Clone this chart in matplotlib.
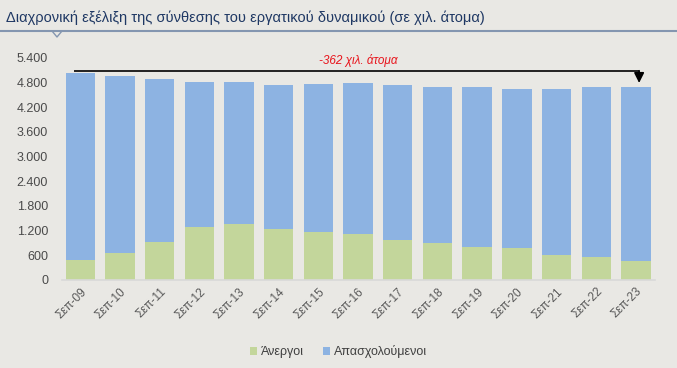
import matplotlib
matplotlib.use("Agg")
import matplotlib.pyplot as plt
import numpy as np

plt.rcParams['font.family'] = ['Liberation Sans', 'DejaVu Sans']

categories = ["Σεπ-09", "Σεπ-10", "Σεπ-11", "Σεπ-12", "Σεπ-13", "Σεπ-14", "Σεπ-15",
              "Σεπ-16", "Σεπ-17", "Σεπ-18", "Σεπ-19", "Σεπ-20", "Σεπ-21", "Σεπ-22", "Σεπ-23"]
unemployed = [496, 667, 928, 1278, 1351, 1229, 1173, 1107, 985, 894, 806, 772, 601, 552, 454]
total = [5045, 4974, 4893, 4828, 4813, 4747, 4771, 4803, 4740, 4705, 4705, 4642, 4657, 4705, 4683]
employed = [t - u for t, u in zip(total, unemployed)]
yticks = [0, 600, 1200, 1800, 2400, 3000, 3600, 4200, 4800, 5400]
ytick_labels = ["0", "600", "1.200", "1.800", "2.400", "3.000", "3.600", "4.200", "4.800", "5.400"]
title = "Διαχρονική εξέλιξη της σύνθεσης του εργατικού δυναμικού (σε χιλ. άτομα)"
annotation = "-362 χιλ. άτομα"

bg = "#e9e8e4"
green = "#c3d69b"
blue = "#8db3e2"

fig = plt.figure(figsize=(6.77, 3.68), dpi=100, facecolor=bg)
ax = fig.add_axes([62/677, 1 - 280/368, (655-62)/677, (280-58)/368])
ax.set_facecolor(bg)

x = np.arange(len(categories))
ax.bar(x, unemployed, width=0.74, color=green, label="Άνεργοι", zorder=2)
ax.bar(x, employed, width=0.74, bottom=unemployed, color=blue, label="Απασχολούμενοι", zorder=2)

ax.set_xlim(-0.46, len(categories) - 1 + 0.48)
ax.set_ylim(0, 5400)
ax.set_yticks(yticks)
ax.set_yticklabels(ytick_labels, fontsize=9, color="#4a4a4a")
ax.set_xticks(x)
ax.set_xticklabels(categories, rotation=45, ha="right", rotation_mode="anchor",
                   fontsize=8.5, color="#595959")
ax.tick_params(axis="y", length=0, pad=10)
ax.tick_params(axis="x", length=0, pad=4)
for s in ["top", "right", "left"]:
    ax.spines[s].set_visible(False)
ax.spines["bottom"].set_color("#d9d9d9")
ax.spines["bottom"].set_linewidth(1.2)

# annotation arrow line
y_line = total[0] + 30
ax.plot([x[0] - 0.15, x[-1] + 0.08], [y_line, y_line], color="black", lw=1.2, zorder=3,
        solid_capstyle="butt")
ax.annotate("", xy=(x[-1] + 0.08, total[-1] + 110), xytext=(x[-1] + 0.08, y_line + 15),
            arrowprops=dict(arrowstyle="-|>", color="black", lw=1.2, mutation_scale=15,
                            shrinkA=0, shrinkB=0), zorder=3)
ax.text(7.0, y_line + 110, annotation, color="#e8141c", fontsize=8.5, style="italic",
        ha="center", va="bottom")

# title and rule
fig.text(6/677, 1 - 18/368, title, fontsize=10.5, color="#1f3864", ha="left", va="center")
fig.add_artist(plt.Line2D([0, 1], [1 - 31/368, 1 - 31/368], transform=fig.transFigure,
                          color="#8496b0", lw=1.5))
fig.add_artist(plt.Line2D([52/677, 57/677, 62/677], [1 - 31/368, 1 - 37/368, 1 - 31/368],
                          transform=fig.transFigure, color="#8496b0", lw=1.0))

leg = fig.legend(loc="center", bbox_to_anchor=(0.5, 1 - 352/368), ncol=2, frameon=False,
                 fontsize=9, handlelength=0.6, handleheight=0.6, handletextpad=0.3,
                 columnspacing=1.5)
for t in leg.get_texts():
    t.set_color("#404040")

fig.savefig("out.png", dpi=100, facecolor=bg)
